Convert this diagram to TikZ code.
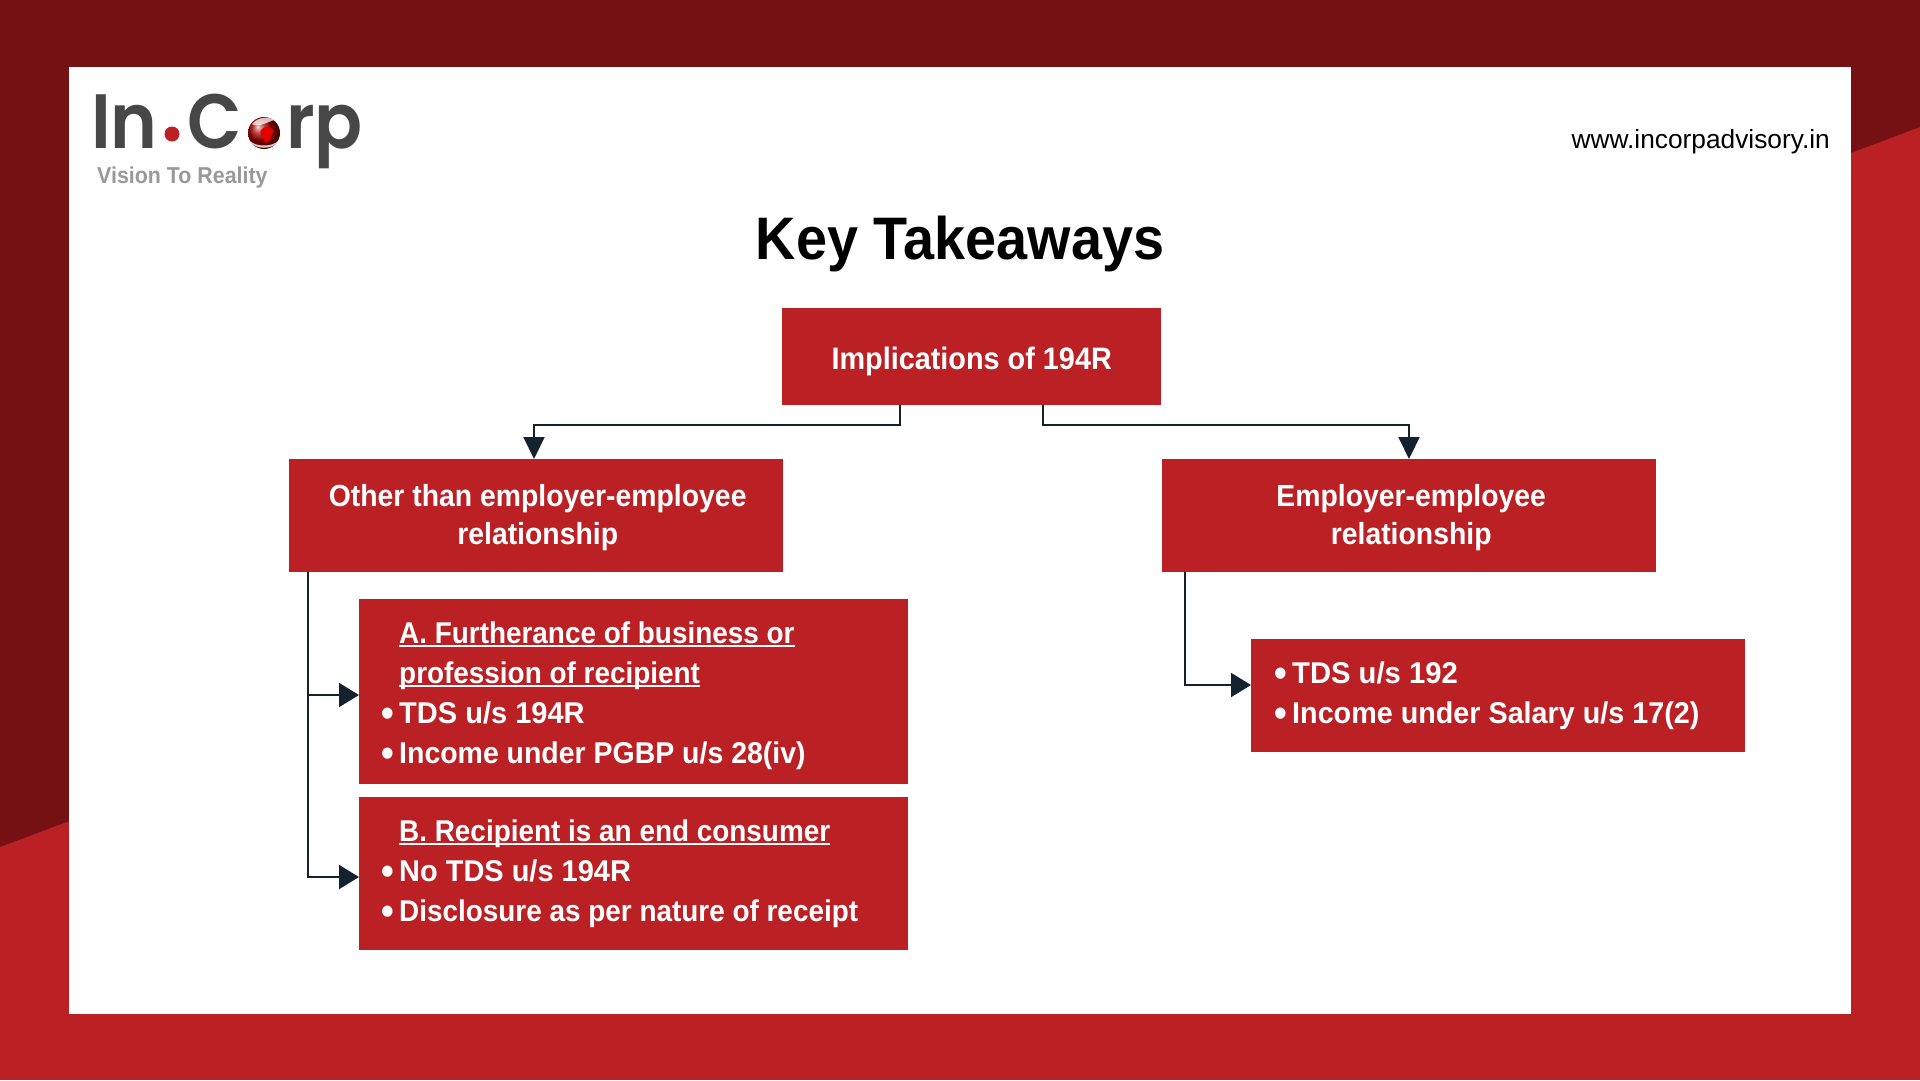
\documentclass[tikz,border=0pt]{standalone}
\usepackage{fontspec}
\usetikzlibrary{arrows.meta}
\setmainfont{Liberation Sans}
\newfontfamily\bodyfont[FakeStretch=0.93,BoldFont={Liberation Sans Bold}]{Liberation Sans}
\newfontfamily\logofont[FakeStretch=0.92]{Poppins SemiBold}
\definecolor{darkred}{HTML}{751013}
\definecolor{brightred}{HTML}{BB2025}
\definecolor{linedark}{HTML}{14222F}
\definecolor{logogray}{HTML}{474747}
\definecolor{taggray}{HTML}{999999}
\newcommand{\ulx}[1]{\leavevmode\setbox0\hbox{#1}\rlap{\rule[-4pt]{\wd0}{2pt}}\box0}
\newcommand{\bul}{\llap{\raisebox{-3pt}{\fontsize{39}{0}\selectfont\textbullet}\hspace{5.5pt}}}
\newcommand{\sx}[2]{\scalebox{#1}[1]{#2}}
\tikzset{
  redbox/.style={fill=brightred,draw=none,inner sep=0pt,text=white,align=center,font=\bodyfont\bfseries\fontsize{30.5}{38}\selectfont},
  listtext/.style={inner sep=0pt,text=white,align=left,anchor=base west,font=\bodyfont\bfseries\fontsize{30}{40}\selectfont},
  conn/.style={draw=linedark,line width=2pt},
  downconn/.style={conn,-{Triangle[length=22pt,width=21pt]}},
  rightconn/.style={conn,-{Triangle[length=20pt,width=24pt]}},
  logotext/.style={inner sep=0pt,text=logogray,anchor=base west,font=\logofont\fontsize{77}{77}\selectfont}
}
\begin{document}
\begin{tikzpicture}[x=1pt,y=-1pt]
\useasboundingbox (0,0) rectangle (1920,1080);
% background
\fill[brightred] (0,0) rectangle (1920,1080);
\fill[darkred] (0,0) -- (1920,0) -- (1920,127) -- (0,847) -- cycle;
\node[fill=white,inner sep=0pt,minimum width=1782pt,minimum height=947pt,anchor=north west] (panel) at (69,67) {};
% logo
\node[logotext] (logoIn) at (91,148) {In};
\fill[brightred] (172,134) circle (7.5);
\node[logotext] (logoC) at (187,148) {C};
\node[logotext] (logoRP) at (286,148) {rp};
\fill[white] (264,133) circle (18);
\shade[ball color=red!65!black] (264,133) circle (16);
\fill[white,opacity=.8] (250,141) .. controls (256,147) and (272,147) .. (278,141) .. controls (274,150) and (254,150) .. (250,141) -- cycle;
\fill[white,opacity=.75] (252,124) .. controls (258,117) and (268,116) .. (274,120) .. controls (268,122) and (258,128) .. (252,124) -- cycle;
\fill[red!90!black] (262,129) .. controls (268,124) and (276,128) .. (272,134) .. controls (270,142) and (266,146) .. (264,140) .. controls (262,136) and (258,132) .. (262,129) -- cycle;
\node[inner sep=0pt,anchor=base west,text=taggray,font=\bodyfont\bfseries\fontsize{23}{23}\selectfont] (tag) at (97,183) {Vision To Reality};
\node[inner sep=0pt,anchor=base east,text=black,font=\fontsize{26.3}{26}\selectfont] (url) at (1830,148) {www.incorpadvisory.in};
\node[inner sep=0pt,anchor=base,text=black,font=\bodyfont\bfseries\fontsize{60}{60}\selectfont] (title) at (960,259) {Key Takeaways};
% boxes
\node[redbox,minimum width=379pt,minimum height=97pt,anchor=north west,font=\bodyfont\bfseries\fontsize{31}{38}\selectfont] (root) at (782,308) {\rule{0pt}{32pt}Implications of 194R};
\node[redbox,minimum width=494pt,minimum height=113pt,anchor=north west] (other) at (289,459) {\rule{0pt}{25pt}\hspace*{3pt}Other than employer-employee\\\hspace*{3pt}relationship};
\node[redbox,minimum width=494pt,minimum height=113pt,anchor=north west] (emp) at (1162,459) {\rule{0pt}{25pt}\hspace*{4pt}Employer-employee\\\hspace*{4pt}relationship};
\node[redbox,minimum width=549pt,minimum height=185pt,anchor=north west] (boxA) at (359,599) {};
\node[redbox,minimum width=549pt,minimum height=153pt,anchor=north west] (boxB) at (359,797) {};
\node[redbox,minimum width=494pt,minimum height=113pt,anchor=north west] (boxC) at (1251,639) {};
\node[listtext] (textA) at (399,763) {\ulx{A. Furtherance of business or}\\\ulx{profession of recipient}\\\bul\sx{1.04}{TDS u/s 194R}\\\bul\sx{1.02}{Income under PGBP u/s 28(iv)}};
\node[listtext] (textB) at (399,921) {\ulx{B. Recipient is an end consumer}\\\bul\sx{1.038}{No TDS u/s 194R}\\\bul Disclosure as per nature of receipt};
\node[listtext] (textC) at (1292,723) {\bul\sx{1.047}{TDS u/s 192}\\\bul\sx{1.03}{Income under Salary u/s 17(2)}};
% connectors
\coordinate (rootL) at (900,405);
\coordinate (rootR) at (1043,405);
\coordinate (otherTop) at (534,459);
\coordinate (empTop) at (1409,459);
\coordinate (otherBase) at (308,572);
\coordinate (empBase) at (1185,572);
\coordinate (aIn) at (359,695);
\coordinate (bIn) at (359,877);
\coordinate (cIn) at (1251,685);
\draw[downconn] (rootL) |- (534,425) -- (otherTop);
\draw[downconn] (rootR) |- (1409,425) -- (empTop);
\draw[rightconn] (otherBase) |- (aIn);
\draw[rightconn] (otherBase) |- (bIn);
\draw[rightconn] (empBase) |- (cIn);
\end{tikzpicture}
\end{document}
